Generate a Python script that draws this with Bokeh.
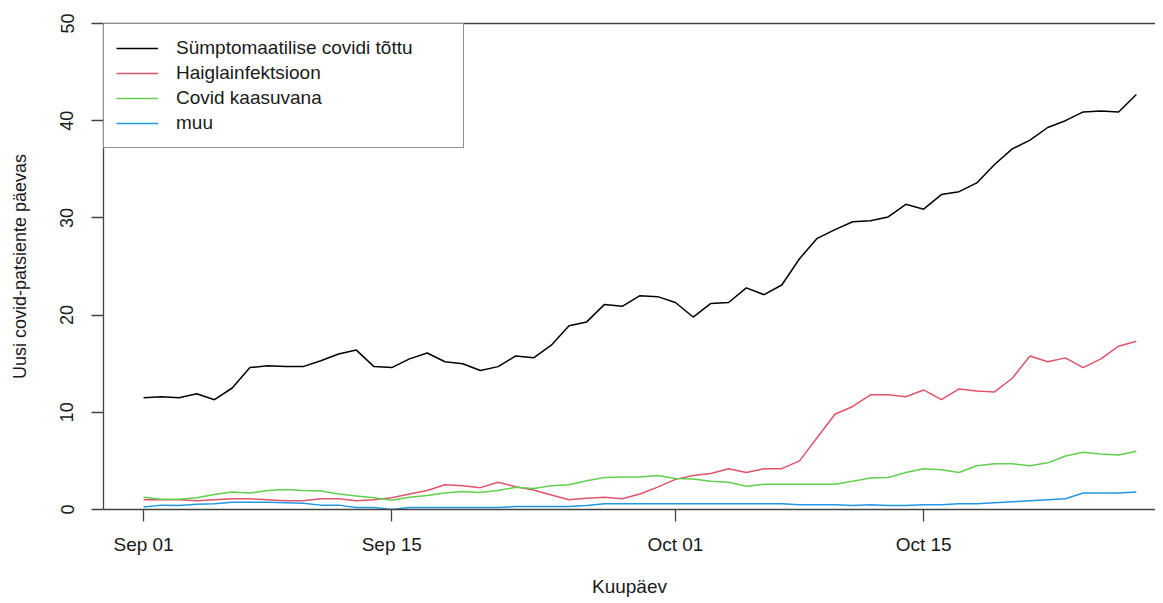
from datetime import datetime, timedelta
from bokeh.plotting import figure
from bokeh.models import (Range1d, FixedTicker, DatetimeTickFormatter, LinearAxis,
                          Legend, LegendItem)
from bokeh.embed import file_html
from bokeh.resources import INLINE

# ---- data ----
start_date = datetime(2021, 9, 1)
n_days = 57
dates = [start_date + timedelta(days=i) for i in range(n_days)]

symptomatic = [11.5, 11.6, 11.5, 11.9, 11.3, 12.5, 14.6, 14.8, 14.7, 14.7,
               15.3, 16.0, 16.4, 14.7, 14.6, 15.5, 16.1, 15.2, 15.0, 14.3,
               14.7, 15.8, 15.6, 16.9, 18.9, 19.3, 21.1, 20.9, 22.0, 21.9,
               21.3, 19.8, 21.2, 21.3, 22.8, 22.1, 23.1, 25.8, 27.9, 28.8,
               29.6, 29.7, 30.1, 31.4, 30.9, 32.4, 32.7, 33.6, 35.5, 37.1,
               38.0, 39.3, 40.0, 40.9, 41.0, 40.9, 42.7]
hospital = [1.0, 1.0, 1.0, 0.9, 1.0, 1.1, 1.1, 1.0, 0.9, 0.9,
            1.1, 1.1, 0.9, 1.0, 1.2, 1.6, 1.95, 2.55, 2.45, 2.25,
            2.8, 2.35, 2.0, 1.5, 1.0, 1.15, 1.25, 1.1, 1.6, 2.3,
            3.1, 3.5, 3.7, 4.2, 3.8, 4.2, 4.2, 5.0, 7.4, 9.8,
            10.6, 11.8, 11.8, 11.6, 12.3, 11.3, 12.4, 12.2, 12.1, 13.5,
            15.8, 15.2, 15.6, 14.6, 15.5, 16.8, 17.3]
incidental = [1.25, 1.05, 1.05, 1.2, 1.55, 1.8, 1.7, 1.95, 2.05, 1.95,
              1.9, 1.6, 1.4, 1.2, 0.95, 1.25, 1.45, 1.7, 1.85, 1.75,
              1.95, 2.3, 2.15, 2.45, 2.55, 2.95, 3.3, 3.35, 3.35, 3.5,
              3.2, 3.15, 2.9, 2.8, 2.4, 2.6, 2.6, 2.6, 2.6, 2.6,
              2.9, 3.25, 3.3, 3.8, 4.2, 4.1, 3.8, 4.5, 4.7, 4.7,
              4.5, 4.8, 5.5, 5.9, 5.7, 5.6, 6.0]
other = [0.25, 0.45, 0.4, 0.55, 0.6, 0.75, 0.75, 0.75, 0.7, 0.65,
         0.45, 0.45, 0.2, 0.2, 0.0, 0.2, 0.2, 0.2, 0.2, 0.2,
         0.2, 0.3, 0.3, 0.3, 0.3, 0.4, 0.6, 0.6, 0.6, 0.6,
         0.6, 0.6, 0.6, 0.6, 0.6, 0.6, 0.6, 0.5, 0.5, 0.5,
         0.4, 0.5, 0.4, 0.4, 0.5, 0.5, 0.6, 0.6, 0.7, 0.8,
         0.9, 1.0, 1.1, 1.7, 1.7, 1.7, 1.8]

series_names = ["Sümptomaatilise covidi tõttu", "Haiglainfektsioon",
                "Covid kaasuvana", "muu"]
series_values = [symptomatic, hospital, incidental, other]
series_colors = ["#000000", "#DF536B", "#61D04F", "#2297E6"]

x_tick_dates = [datetime(2021, 9, 1), datetime(2021, 9, 15),
                datetime(2021, 10, 1), datetime(2021, 10, 15)]
y_ticks = [0, 10, 20, 30, 40, 50]

x_label = "Kuupäev"
y_label = "Uusi covid-patsiente päevas"

# ---- figure ----
FONT = "Liberation Sans"
TXT = "#1a1a1a"
AX = "#444444"

x0 = start_date - timedelta(days=2.26)
x1 = start_date + timedelta(days=57.08)

p = figure(width=1155, height=595, frame_width=1052, frame_height=486,
           min_border_left=103, min_border_right=0, min_border_top=23,
           min_border_bottom=86, x_axis_type="datetime",
           x_range=Range1d(x0, x1), y_range=Range1d(0, 50),
           output_backend="svg", toolbar_location=None)

p.grid.visible = False
p.outline_line_color = None
p.background_fill_color = "white"
p.border_fill_color = "white"

renderers = []
for vals, col in zip(series_values, series_colors):
    r = p.line(dates, vals, line_color=col, line_width=1.5)
    renderers.append(r)

# x axis
xa = p.xaxis[0]
xa.ticker = FixedTicker(ticks=[d.timestamp() * 1000 for d in x_tick_dates])
xa.formatter = DatetimeTickFormatter(days="%b %d", months="%b %d", hours="%b %d")
xa.minor_tick_line_color = None
xa.major_tick_in = 0
xa.major_tick_out = 12
xa.major_tick_line_color = AX
xa.major_tick_line_width = 1.3
xa.axis_line_color = AX
xa.axis_line_width = 1.3
xa.major_label_text_font = FONT
xa.major_label_text_font_size = "19px"
xa.major_label_text_color = TXT
xa.major_label_standoff = 12
xa.axis_label = x_label
xa.axis_label_text_font = FONT
xa.axis_label_text_font_size = "19px"
xa.axis_label_text_font_style = "normal"
xa.axis_label_text_color = TXT
xa.axis_label_standoff = 18

# y axis
ya = p.yaxis[0]
ya.ticker = FixedTicker(ticks=y_ticks)
ya.minor_tick_line_color = None
ya.major_tick_in = 0
ya.major_tick_out = 12
ya.major_tick_line_color = AX
ya.major_tick_line_width = 1.3
ya.axis_line_color = AX
ya.axis_line_width = 1.3
ya.major_label_orientation = "parallel"
ya.major_label_text_font = FONT
ya.major_label_text_font_size = "18px"
ya.major_label_text_color = TXT
ya.major_label_standoff = 18
ya.axis_label = y_label
ya.axis_label_text_font = FONT
ya.axis_label_text_font_size = "18px"
ya.axis_label_text_font_style = "normal"
ya.axis_label_text_color = TXT
ya.axis_label_standoff = 28

# top border line (box is open to the right, cut by the image edge)
top = LinearAxis(ticker=FixedTicker(ticks=[]), axis_line_color=AX,
                 axis_line_width=1.3, major_tick_line_color=None,
                 minor_tick_line_color=None, major_label_text_font_size="0px")
p.add_layout(top, "above")

legend = Legend(items=[LegendItem(label=n, renderers=[r])
                       for n, r in zip(series_names, renderers)],
                location="top_left", margin=0, padding=12, spacing=1,
                glyph_width=42, glyph_height=24, label_height=24,
                label_width=275, label_standoff=18,
                label_text_font=FONT, label_text_font_size="19px",
                label_text_color=TXT,
                border_line_color="#222222", border_line_width=1.3,
                background_fill_color="white", background_fill_alpha=1.0)
p.add_layout(legend)

open("out.html", "w").write(file_html(p, INLINE))
